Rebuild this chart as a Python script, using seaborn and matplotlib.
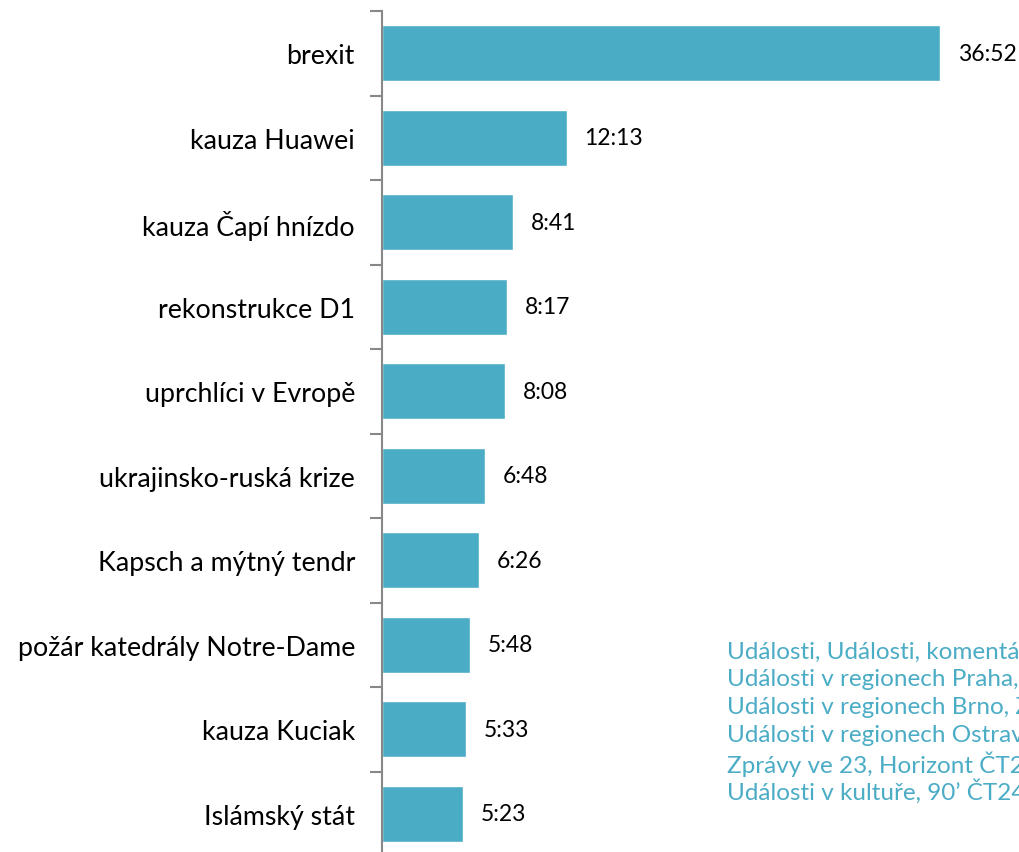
import matplotlib.pyplot as plt
import seaborn as sns
import pandas as pd
import numpy as np

# Témata a stopáž (min:s)
temata = ["brexit", "kauza Huawei", "kauza Čapí hnízdo", "rekonstrukce D1",
          "uprchlíci v Evropě", "ukrajinsko-ruská krize", "Kapsch a mýtný tendr",
          "požár katedrály Notre-Dame", "kauza Kuciak", "Islámský stát"]
stopaz = ["36:52", "12:13", "8:41", "8:17", "8:08", "6:48", "6:26", "5:48", "5:33", "5:23"]
poznamka = ["Události, Události, komentáře",
            "Události v regionech Praha, Plzeň",
            "Události v regionech Brno, Zlín",
            "Události v regionech Ostrava",
            "Zprávy ve 23, Horizont ČT24",
            "Události v kultuře, 90’ ČT24"]

def na_sekundy(t):
    m, s = t.split(":")
    return int(m) * 60 + int(s)

df = pd.DataFrame({"tema": temata, "sekundy": [na_sekundy(t) for t in stopaz], "popis": stopaz})

sns.set_style("white")
plt.rcParams['font.family'] = ['Lato', 'DejaVu Sans']
barva = '#4BACC6'

fig = plt.figure(figsize=(10.2, 8.53), dpi=100)
ax = fig.add_axes([382 / 1020, -4 / 853, 1 - 382 / 1020, 845 / 853])
sns.barplot(data=df, y="tema", x="sekundy", orient="h", color=barva, width=0.66,
            saturation=1, ax=ax)

ax.set_xlim(0, 2529)
ax.set_ylim(len(temata) - 0.5, -0.5)
ax.set_xlabel("")
ax.set_ylabel("")
ax.set_xticks([])

# popisky hodnot
for i, (v, p) in enumerate(zip(df["sekundy"], df["popis"])):
    ax.text(v + 70, i, p, ha='left', va='center', fontsize=16.5, color='black')

# čárky mezi kategoriemi
ax.set_yticks(np.arange(len(temata)) - 0.5, minor=True)
ax.tick_params(axis='y', which='minor', left=True, length=9, width=1.5,
               color='#888888', direction='out')
ax.tick_params(axis='y', which='major', left=False, length=0, pad=19.5,
               labelsize=19.3, labelcolor='black')

for s in ['top', 'right', 'bottom']:
    ax.spines[s].set_visible(False)
ax.spines['left'].set_color('#888888')
ax.spines['left'].set_linewidth(1.5)

# poznámka vpravo dole (v originále oříznutá okrajem)
for j, radek in enumerate(poznamka):
    fig.text(727 / 1020, 1 - (652 + j * 28) / 853, radek, ha='left', va='center',
             fontsize=17.5, color=barva)

plt.savefig("out.png", dpi=100)
plt.close()
